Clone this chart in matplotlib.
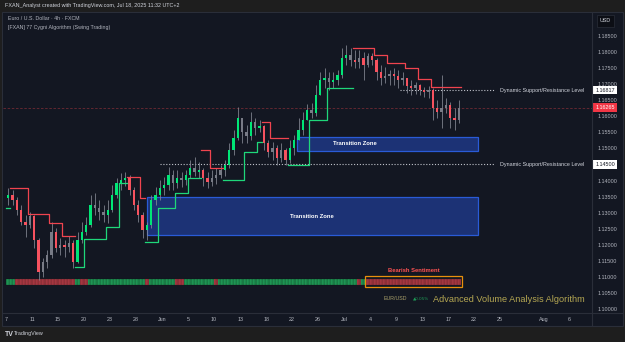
import numpy as np
import matplotlib.pyplot as plt
from matplotlib.patches import Rectangle
from matplotlib.lines import Line2D
import matplotlib.transforms as mtransforms

plt.rcParams['font.family'] = ['Liberation Sans', 'DejaVu Sans']

# EUR/USD 12h candles, May 7 -> Jul 18 2025
closes = [1.1355, 1.1339, 1.1308, 1.1271, 1.1262, 1.1290, 1.1215, 1.1115, 1.1147, 1.1168,
          1.1240, 1.1190, 1.1199, 1.1193, 1.1206, 1.1147, 1.1215, 1.1240, 1.1262, 1.1324,
          1.1315, 1.1302, 1.1293, 1.1308, 1.1355, 1.1392, 1.1402, 1.1408, 1.1371, 1.1324,
          1.1293, 1.1246, 1.1262, 1.1339, 1.1355, 1.1377, 1.1386, 1.1417, 1.1392, 1.1408,
          1.1402, 1.1417, 1.1439, 1.1427, 1.1433, 1.1408, 1.1395, 1.1408, 1.1417, 1.1433,
          1.1448, 1.1495, 1.1532, 1.1595, 1.1551, 1.1539, 1.1582, 1.1564, 1.1570, 1.1517,
          1.1489, 1.1501, 1.1470, 1.1495, 1.1464, 1.1501, 1.1526, 1.1557, 1.1588, 1.1620,
          1.1610, 1.1666, 1.1713, 1.1719, 1.1707, 1.1713, 1.1729, 1.1782, 1.1791, 1.1775,
          1.1769, 1.1782, 1.1760, 1.1788, 1.1775, 1.1738, 1.1719, 1.1725, 1.1732, 1.1725,
          1.1713, 1.1719, 1.1694, 1.1688, 1.1697, 1.1682, 1.1676, 1.1682, 1.1626, 1.1613,
          1.1626, 1.1635, 1.1595, 1.1588, 1.1627]
highs = [1.1377, 1.1371, 1.1349, 1.1324, 1.1293, 1.1302, 1.1293, 1.1221, 1.1159, 1.1184,
         1.1271, 1.1252, 1.1221, 1.1215, 1.1227, 1.1215, 1.1240, 1.1271, 1.1287, 1.1355,
         1.1361, 1.1339, 1.1324, 1.1339, 1.1386, 1.1408, 1.1423, 1.1427, 1.1417, 1.1380,
         1.1339, 1.1302, 1.1271, 1.1355, 1.1380, 1.1402, 1.1411, 1.1442, 1.1433, 1.1433,
         1.1427, 1.1433, 1.1464, 1.1473, 1.1458, 1.1439, 1.1427, 1.1433, 1.1439, 1.1448,
         1.1464, 1.1517, 1.1557, 1.1629, 1.1595, 1.1573, 1.1613, 1.1595, 1.1588, 1.1573,
         1.1526, 1.1520, 1.1511, 1.1517, 1.1501, 1.1526, 1.1542, 1.1595, 1.1613, 1.1638,
         1.1641, 1.1697, 1.1738, 1.1750, 1.1738, 1.1738, 1.1744, 1.1813, 1.1822, 1.1813,
         1.1806, 1.1806, 1.1800, 1.1797, 1.1797, 1.1782, 1.1760, 1.1753, 1.1744, 1.1750,
         1.1744, 1.1738, 1.1719, 1.1713, 1.1707, 1.1701, 1.1691, 1.1694, 1.1688, 1.1651,
         1.1729, 1.1657, 1.1645, 1.1626, 1.1651]
lows = [1.1324, 1.1324, 1.1293, 1.1262, 1.1224, 1.1252, 1.1190, 1.1090, 1.1100, 1.1128,
        1.1159, 1.1178, 1.1168, 1.1162, 1.1178, 1.1128, 1.1143, 1.1206, 1.1230, 1.1255,
        1.1293, 1.1277, 1.1271, 1.1268, 1.1302, 1.1346, 1.1371, 1.1383, 1.1355, 1.1308,
        1.1271, 1.1221, 1.1215, 1.1252, 1.1324, 1.1339, 1.1355, 1.1371, 1.1371, 1.1377,
        1.1380, 1.1386, 1.1408, 1.1414, 1.1408, 1.1383, 1.1377, 1.1383, 1.1389, 1.1408,
        1.1414, 1.1439, 1.1480, 1.1526, 1.1517, 1.1517, 1.1526, 1.1542, 1.1551, 1.1495,
        1.1473, 1.1464, 1.1448, 1.1458, 1.1448, 1.1455, 1.1480, 1.1526, 1.1542, 1.1588,
        1.1595, 1.1602, 1.1666, 1.1688, 1.1682, 1.1688, 1.1697, 1.1719, 1.1760, 1.1757,
        1.1750, 1.1750, 1.1713, 1.1752, 1.1760, 1.1713, 1.1697, 1.1704, 1.1697, 1.1697,
        1.1688, 1.1697, 1.1673, 1.1666, 1.1669, 1.1666, 1.1660, 1.1657, 1.1588, 1.1595,
        1.1564, 1.1610, 1.1564, 1.1557, 1.1580]
first_open = 1.1345
last_price = 1.16265

# swing trailing stop: bar where each step starts, its level, U = support / D = resistance
stop_start = [0, 1, 5, 10, 13, 16, 18, 23, 26, 28, 31, 32, 35, 39, 42, 45, 47, 50, 55, 58,
              59, 61, 65, 70, 74, 80, 85, 88, 92, 95, 98]
stop_level = [1.1315, 1.1377, 1.1296, 1.1268, 1.1227, 1.1131, 1.1218, 1.1255, 1.1392, 1.1411,
              1.1346, 1.1209, 1.1315, 1.1361, 1.1408, 1.1495, 1.1439, 1.1402, 1.1489, 1.1520,
              1.1582, 1.1532, 1.1448, 1.1588, 1.1688, 1.1813, 1.1791, 1.1766, 1.1750, 1.1716,
              1.1691]
stop_side = "UDDDDUUUUDDUUUUDDUUUDDUUUDDDDDD"

# volume sentiment per bar (G bullish / R bearish)
sentiment = ("GG" + "R" * 14 + "G" + "RR" + "G" * 13 + "R" + "G" * 6 + "RR" + "G" * 7 + "R"
             + "G" * 32 + "R" + "G" + "R" * 22)

# transition zones (x in trading days since May 7)
zone_x0 = [16.26, 33.56]
zone_x1 = [54.4, 54.4]
zone_lo = [1.1230, 1.1492]
zone_hi = [1.1349, 1.1536]
zone_label_x = [35.3, 40.3]

# dynamic support / resistance levels
sr_level = [1.14500, 1.16817]
sr_x0 = [17.8, 45.4]
sr_x1 = 56.4

tick_dates = ['2025-05-07', '2025-05-11', '2025-05-15', '2025-05-20', '2025-05-23', '2025-05-28',
              '2025-06-01', '2025-06-05', '2025-06-10', '2025-06-13', '2025-06-18', '2025-06-22',
              '2025-06-26', '2025-07-01', '2025-07-04', '2025-07-09', '2025-07-13', '2025-07-17',
              '2025-07-22', '2025-07-25', '2025-08-01', '2025-08-06']
tick_text = ['7', '11', '15', '20', '23', '28', 'Jun', '5', '10', '13', '18', '22', '26', 'Jul',
             '4', '9', '13', '17', '22', '25', 'Aug', '6']

BG = '#131722'
TXT = '#b2b5be'
GREEN = '#00e676'
RED = '#f7525f'
GRAY = '#787b86'

W, H = 625, 342
fig = plt.figure(figsize=(6.25, 3.42), dpi=100, facecolor='#1e1e1e')


def fx(x):
    return x / W


def fy(y):
    return 1 - y / H


# chart panel
fig.patches.append(Rectangle((fx(2), fy(326)), fx(621), 314 / H, transform=fig.transFigure,
                             facecolor=BG, edgecolor='#2a2e39', lw=0.8, zorder=-5))
ax = fig.add_axes([fx(3), fy(313), fx(589), 300 / H])
ax.set_facecolor(BG)
for s in ax.spines.values():
    s.set_visible(False)

n = len(closes)
opens = [first_open] + closes[:-1]
bar_x = np.arange(n) * 0.5 + 0.25

seg_end = stop_start[1:] + [n]
trend = [''] * n
for s, e, side in zip(stop_start, seg_end, stop_side):
    for k in range(s, e):
        trend[k] = side

cols = []
for o, c, t in zip(opens, closes, trend):
    if t == 'U':
        cols.append(GREEN if c >= o else GRAY)
    else:
        cols.append(RED if c < o else GRAY)

# current price line
ax.axhline(last_price, color='#6e2a33', lw=0.6, ls=(0, (3, 2)), zorder=1)

# transition zones
for x0, x1, lo, hi, lx in zip(zone_x0, zone_x1, zone_lo, zone_hi, zone_label_x):
    ax.add_patch(Rectangle((x0, lo), x1 - x0, hi - lo, facecolor='#1c3275', edgecolor='#2a5bd7',
                           lw=0.9, zorder=2))
    ax.text(lx, (lo + hi) / 2, 'Transition Zone', color='white', fontsize=4.2, fontweight='bold',
            ha='center', va='center', zorder=6)

# dotted S/R levels
for lvl, x0 in zip(sr_level, sr_x0):
    ax.plot([x0, sr_x1], [lvl, lvl], color='#c0c3cb', lw=0.8, ls=(0, (1, 1.6)), zorder=3)
    ax.text(sr_x1 + 0.6, lvl, 'Dynamic Support/Resistance Level', color='#d1d4dc', fontsize=3.9,
            ha='left', va='center', zorder=6)

# candles
ax.vlines(bar_x, lows, highs, color='#868a95', lw=0.55, zorder=4)
bottoms = [min(o, c) for o, c in zip(opens, closes)]
heights = [max(abs(c - o), 0.00025) for o, c in zip(opens, closes)]
ax.bar(bar_x, heights, 0.28, bottom=bottoms, color=cols, zorder=5)

# trailing stop lines
i = 0
while i < len(stop_start):
    j = i
    while j + 1 < len(stop_start) and stop_side[j + 1] == stop_side[i]:
        j += 1
    xs, ys = [], []
    for s in range(i, j + 1):
        xs += [bar_x[stop_start[s]] - 0.25, bar_x[seg_end[s] - 1] + 0.25]
        ys += [stop_level[s], stop_level[s]]
    ax.plot(xs, ys, color='#1fd77a' if stop_side[i] == 'U' else '#f0444f', lw=0.9, zorder=5)
    i = j + 1

# sentiment strip
tr = mtransforms.blended_transform_factory(ax.transData, ax.transAxes)
for k, sgn in enumerate(sentiment):
    c = '#20a35b' if sgn == 'G' else '#b23a45'
    for q in range(3):
        ax.add_patch(Rectangle((bar_x[k] - 0.25 + q / 6, 0.093), 1 / 6, 0.02, transform=tr,
                               facecolor=c, edgecolor='#0f1a14' if sgn == 'G' else '#3a1a1e',
                               lw=0.15, zorder=3))
bear_start = sentiment.rstrip('R')
k0 = len(bear_start)
ax.add_patch(Rectangle((bar_x[k0] - 0.3, 0.087), bar_x[-1] + 0.3 - (bar_x[k0] - 0.3), 0.036,
                       transform=tr, facecolor='none', edgecolor='#e8900c', lw=0.9, zorder=4))
ax.text((bar_x[k0] + bar_x[-1]) / 2, 0.143, 'Bearish Sentiment', transform=tr, color='#ff5252',
        fontsize=4.2, fontweight='bold', ha='center', va='center')

# price tags on the scale
tags = [(1.16817, 'white', BG), (last_price, '#f23645', 'white'), (1.14500, 'white', BG)]

# axes
ax.set_ylim(1.09876, 1.19216)
ax.set_xlim(-0.35, 67.6)
ax.yaxis.tick_right()
yt = np.arange(1.100, 1.1851, 0.005)
ax.set_yticks(yt)
ax.set_yticklabels(['' if any(abs(v - t[0]) < 0.0005 for t in tags) else f'{v:.5f}' for v in yt])
ax.tick_params(axis='y', length=0, pad=4, labelsize=3.9, labelcolor=TXT)
tick_pos = np.busday_count('2025-05-07', tick_dates)
ax.set_xticks(tick_pos)
ax.set_xticklabels(tick_text)
ax.tick_params(axis='x', length=0, pad=3, labelsize=3.9, labelcolor=TXT)

ytr = mtransforms.blended_transform_factory(ax.transAxes, ax.transData)
for val, fc, tc in tags:
    ax.text(1.022, val, f'{val:.5f}', transform=ytr, color=tc, fontsize=3.9, ha='center',
            va='center', zorder=10, bbox=dict(boxstyle='square,pad=0.35', fc=fc, ec='none'))

# separators
fig.add_artist(Line2D([fx(592), fx(592)], [fy(326), fy(12)], color='#2a2e39', lw=0.8))
fig.add_artist(Line2D([fx(2), fx(623)], [fy(313), fy(313)], color='#2a2e39', lw=0.8))
fig.text(fx(605.5), fy(21), 'USD', color='#d1d4dc', fontsize=3.9, ha='center', va='center',
         bbox=dict(boxstyle='square,pad=0.6', fc='#0c0e15', ec='#2a2e39', lw=0.5))

# header and legend texts
fig.text(fx(5), fy(6), 'FXAN_Analyst created with TradingView.com, Jul 18, 2025 11:32 UTC+2',
         color='#d1d4dc', fontsize=3.9, ha='left', va='center')
fig.text(fx(8), fy(19), 'Euro / U.S. Dollar · 4h · FXCM', color=TXT, fontsize=3.8,
         ha='left', va='center')
fig.text(fx(8), fy(28), '[FXAN] 77 Cygni Algorithm (Swing Trading)', color=TXT, fontsize=3.8,
         ha='left', va='center')
fig.text(fx(384), fy(299), 'EUR/USD', color='#a89f6a', fontsize=3.8, ha='left', va='center')
fig.text(fx(413), fy(299), '▲0.05%', color='#1e9a56', fontsize=3.0, ha='left', va='center',
         family=['DejaVu Sans'])
fig.text(fx(433), fy(299), 'Advanced Volume Analysis Algorithm', color='#b5a752', fontsize=6.6,
         ha='left', va='center')
fig.text(fx(5), fy(334), 'TV', color='#d1d4dc', fontsize=5, fontweight='bold', ha='left',
         va='center')
fig.text(fx(14), fy(334), 'TradingView', color='#d1d4dc', fontsize=3.9, ha='left', va='center')

fig.savefig('out.png', dpi=100, facecolor=fig.get_facecolor())
